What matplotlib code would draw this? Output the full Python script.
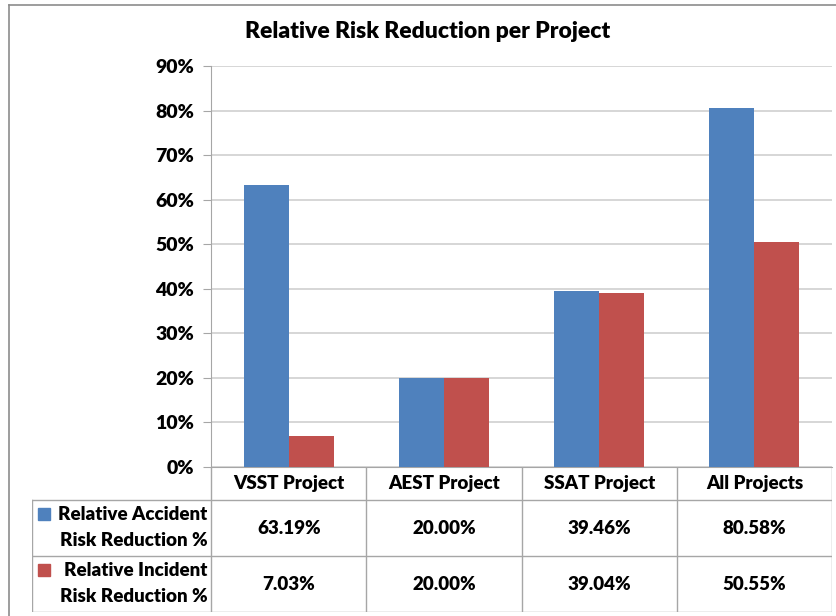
import numpy as np
import matplotlib.pyplot as plt
from matplotlib.lines import Line2D

plt.rcParams['font.family'] = ['Lato', 'DejaVu Sans']
plt.rcParams['font.weight'] = 'heavy'

projects = ['VSST Project', 'AEST Project', 'SSAT Project', 'All Projects']
accident = [63.19, 20.00, 39.46, 80.58]
incident = [7.03, 20.00, 39.04, 50.55]
series_names = ['Relative Accident\nRisk Reduction %', 'Relative Incident\nRisk Reduction %']
colors = ['#4F81BD', '#C0504D']

W, H = 836, 616
fig = plt.figure(figsize=(W / 100, H / 100), dpi=100)

# 像素坐标 -> figure 坐标
def box(x0, y0, x1, y1):
    return [x0 / W, 1 - y1 / H, (x1 - x0) / W, (y1 - y0) / H]

# 外框（只看得到上边和左边）
fig.add_artist(Line2D([9 / W, 1], [1 - 5 / H, 1 - 5 / H], color='#8c8c8c', lw=1.2))
fig.add_artist(Line2D([9 / W, 9 / W], [0, 1 - 5 / H], color='#8c8c8c', lw=1.2))

fw = 'heavy'
fig.text(428 / W, 1 - 32 / H, 'Relative Risk Reduction per Project',
         ha='center', va='center', fontsize=16.5, fontweight=fw)

ax = fig.add_axes(box(211, 66, 832, 467))
x = np.arange(len(projects))
bw = 0.29
ax.bar(x - bw / 2, np.array(accident) / 100, bw, color=colors[0], zorder=3)
ax.bar(x + bw / 2, np.array(incident) / 100, bw, color=colors[1], zorder=3)
ax.set_xlim(-0.5, 3.5)
ax.set_ylim(0, 0.9)
ax.set_yticks(np.arange(0, 0.91, 0.1))
ax.set_yticklabels([f'{int(round(v * 100))}%' for v in np.arange(0, 0.91, 0.1)],
                   fontsize=14, fontweight=fw)
ax.set_xticks([])
ax.yaxis.grid(True, color='#cfcfcf', lw=1.2)
ax.tick_params(axis='y', length=6, color='#a6a6a6', pad=6)
for s in ['top', 'right']:
    ax.spines[s].set_visible(False)
ax.spines['left'].set_color('#a6a6a6')
ax.spines['bottom'].set_color('#a6a6a6')

# 下方数据表
lc = (211 - 32) / 155  # 图例列宽（以类别宽度为单位）
tb = fig.add_axes(box(32, 467, 832, 612))
tb.set_xlim(-0.5 - lc, 3.5)
tb.set_ylim(145, 0)
tb.axis('off')
lcol = '#a6a6a6'
for xv in [-0.5, 0.5, 1.5, 2.5, 3.5]:
    tb.plot([xv, xv], [0, 145], color=lcol, lw=1)
tb.plot([-0.5 - lc, -0.5 - lc], [33, 145], color=lcol, lw=1)
for yv in [33, 89, 145]:
    tb.plot([-0.5 - lc, 3.5], [yv, yv], color=lcol, lw=1)

fs = 13.5
for i, p in enumerate(projects):
    tb.text(i, 16, p, ha='center', va='center', fontsize=fs, fontweight=fw)
rows = [accident, incident]
row_y = [61, 117]
for r, vals in enumerate(rows):
    for i, v in enumerate(vals):
        tb.text(i, row_y[r], f'{v:.2f}%', ha='center', va='center',
                fontsize=fs, fontweight=fw)
    first, second = series_names[r].split('\n')
    tb.text(-0.526, row_y[r] - 13, first, ha='right', va='center',
            fontsize=fs, fontweight=fw)
    tb.text(-0.526, row_y[r] + 12, second, ha='right', va='center',
            fontsize=fs, fontweight=fw)
    tb.plot([-1.577], [row_y[r] - 14], marker='s', markersize=8.5,
            color=colors[r], ls='none')

fig.savefig('out.png', dpi=100)
